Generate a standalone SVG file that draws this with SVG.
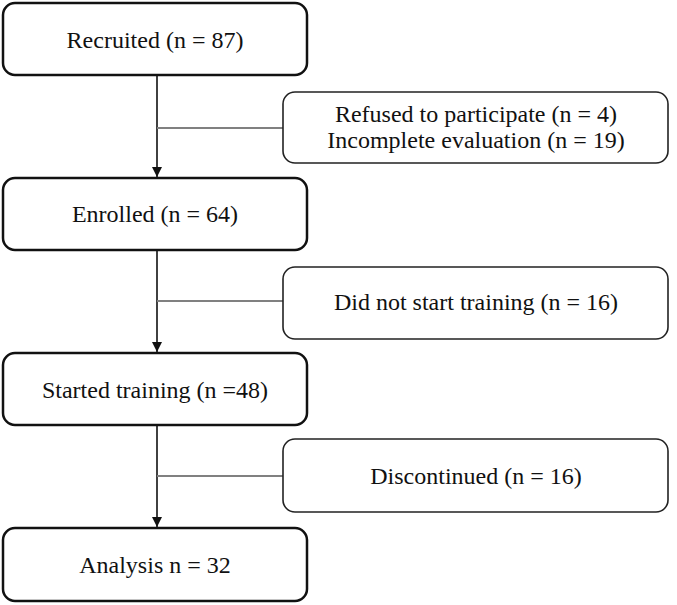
<svg xmlns="http://www.w3.org/2000/svg" width="677" height="605" viewBox="0 0 677 605">
<style>
.main{fill:#fff;stroke:#111;stroke-width:2.5}
.side{fill:#fff;stroke:#222;stroke-width:1.6}
.t{font-family:"Liberation Serif","Times New Roman",serif;font-size:24px;fill:#111;text-anchor:middle}
.v{stroke:#111;stroke-width:1.6;fill:none}
.h{stroke:#808080;stroke-width:2;fill:none}
</style>
<defs>
<marker id="ah" viewBox="0 0 10 10" refX="10" refY="5" markerWidth="10" markerHeight="10" markerUnits="userSpaceOnUse" orient="auto">
<path d="M0,0 L10,5 L0,10 z" fill="#111"/>
</marker>
</defs>
<g id="connectors">
<line class="v" x1="157" y1="75" x2="157" y2="177" marker-end="url(#ah)"/>
<line class="v" x1="157" y1="250" x2="157" y2="352" marker-end="url(#ah)"/>
<line class="v" x1="157" y1="425" x2="157" y2="527" marker-end="url(#ah)"/>
<line class="h" x1="157" y1="128" x2="283" y2="128"/>
<line class="h" x1="157" y1="301" x2="283" y2="301"/>
<line class="h" x1="157" y1="476" x2="283" y2="476"/>
</g>
<g id="recruited"><rect class="main" x="3" y="3" width="304" height="72" rx="12"/><text class="t" x="155" y="48">Recruited (n = 87)</text></g>
<g id="excluded"><rect class="side" x="283" y="92" width="385" height="71" rx="12"/><text class="t" x="476" y="122">Refused to participate (n = 4)</text><text class="t" x="476" y="148">Incomplete evaluation (n = 19)</text></g>
<g id="enrolled"><rect class="main" x="3" y="178" width="304" height="72" rx="12"/><text class="t" x="155" y="222">Enrolled (n = 64)</text></g>
<g id="notstarted"><rect class="side" x="283" y="267" width="385" height="72" rx="12"/><text class="t" x="476" y="310">Did not start training (n = 16)</text></g>
<g id="started"><rect class="main" x="3" y="353" width="304" height="72" rx="12"/><text class="t" x="155" y="398">Started training (n =48)</text></g>
<g id="discontinued"><rect class="side" x="283" y="439" width="385" height="73" rx="12"/><text class="t" x="476" y="484">Discontinued (n = 16)</text></g>
<g id="analysis"><rect class="main" x="3" y="528" width="304" height="73" rx="12"/><text class="t" x="155" y="573">Analysis n = 32</text></g>
</svg>
